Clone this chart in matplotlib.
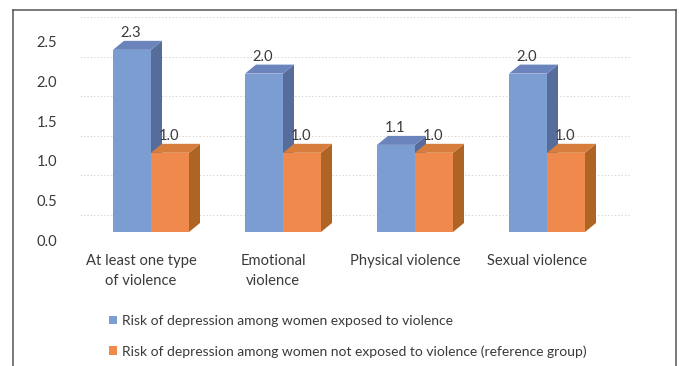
import matplotlib
matplotlib.use("Agg")
import matplotlib.pyplot as plt
from matplotlib.patches import Polygon, Patch
from matplotlib.lines import Line2D
from matplotlib.transforms import ScaledTranslation

plt.rcParams['font.family'] = ['Lato', 'DejaVu Sans']

categories = ["At least one type\nof violence", "Emotional\nviolence",
              "Physical violence", "Sexual violence"]
exposed = [2.3, 2.0, 1.1, 2.0]
not_exposed = [1.0, 1.0, 1.0, 1.0]
series_names = ["Risk of depression among women exposed to violence",
                "Risk of depression among women not exposed to violence (reference group)"]
yticks = [0.0, 0.5, 1.0, 1.5, 2.0, 2.5]

W, H, DPI = 679, 366, 100
fig = plt.figure(figsize=(W / DPI, H / DPI), dpi=DPI)
fig.patch.set_facecolor("white")

# axes placed so that one category slot is 132 px wide
slot = 132.0
ax_left_px, ax_right_px = 60, 660
ax_bottom_px, ax_top_px = 240, 42
ax = fig.add_axes([ax_left_px / W, (H - ax_bottom_px) / H,
                   (ax_right_px - ax_left_px) / W, (ax_bottom_px - ax_top_px) / H])
ax.set_xlim((ax_left_px - 151) / slot, (ax_right_px - 151) / slot)
ax.set_ylim(0, 2.5)
for s in ax.spines.values():
    s.set_visible(False)
ax.patch.set_alpha(0)

text_col = "#3a3a3a"
fs = 10.6
ax.set_yticks(yticks)
ax.set_yticklabels([f"{v:.1f}" for v in yticks], fontsize=fs, color=text_col)
ax.set_xticks(range(len(categories)))
ax.set_xticklabels(categories, fontsize=fs, color=text_col, linespacing=1.55)
ax.tick_params(axis="y", length=0, pad=2)
ax.tick_params(axis="x", length=0, pad=10)
for lbl in ax.get_xticklabels():
    lbl.set_transform(lbl.get_transform() + ScaledTranslation(-10 / DPI, 0, fig.dpi_scale_trans))

fig.canvas.draw()
to_px = ax.transData.transform

# faint dotted gridlines on the back wall
for v in yticks:
    _, yp = to_px((0, v))
    yp += 25
    ax.add_line(Line2D([80, 630], [yp, yp], transform=None, color="#d6d6d6",
                       lw=0.7, ls=(0, (1.5, 2)), zorder=0, clip_on=False))

# 3D box bars
bw = 38 / slot
front_lift = 8      # px, front floor above the axis zero
ddx, ddy = 11, 9    # px, depth of each box

styles = [
    dict(front="#7c9dd1", side="#566d9c", top="#6b84bb"),
    dict(front="#ef8a4c", side="#ae6424", top="#d87e3c"),
]

def box(xl, h, st, label):
    x1, y0 = to_px((xl, 0))
    x2, y1 = to_px((xl + bw, h))
    y0 += front_lift
    y1 += front_lift
    side = [(x2, y0), (x2 + ddx, y0 + ddy), (x2 + ddx, y1 + ddy), (x2, y1)]
    top = [(x1, y1), (x1 + ddx, y1 + ddy), (x2 + ddx, y1 + ddy), (x2, y1)]
    front = [(x1, y0), (x2, y0), (x2, y1), (x1, y1)]
    for pts, c in ((side, st["side"]), (top, st["top"]), (front, st["front"])):
        ax.add_patch(Polygon(pts, closed=True, transform=None, facecolor=c,
                             edgecolor="none", clip_on=False, zorder=2))
    ax.text((x1 + x2) / 2 - 1, y1 + ddy + 8, label, transform=None, ha="center",
            va="center", fontsize=fs, color=text_col, zorder=3)

for i in range(len(categories)):
    box(i - bw, exposed[i], styles[0], f"{exposed[i]:.1f}")
    box(i, not_exposed[i], styles[1], f"{not_exposed[i]:.1f}")

# legend
handles = [Patch(facecolor=styles[0]["front"], edgecolor="none"),
           Patch(facecolor=styles[1]["front"], edgecolor="none")]
fig.legend(handles, series_names, loc="upper left",
           bbox_to_anchor=(102 / W, 1 - 308 / H), frameon=False, fontsize=10.0,
           handlelength=0.6, handleheight=0.6, handletextpad=0.35,
           labelspacing=1.3, borderpad=0, labelcolor=text_col)

# chart frame
fc = "#555555"
fig.add_artist(Line2D([13 / W, 13 / W], [0, 1 - 10 / H], transform=fig.transFigure, color=fc, lw=1.1))
fig.add_artist(Line2D([13 / W, 676 / W], [1 - 10 / H, 1 - 10 / H], transform=fig.transFigure, color=fc, lw=1.1))
fig.add_artist(Line2D([676 / W, 676 / W], [0, 1 - 10 / H], transform=fig.transFigure, color=fc, lw=1.1))

fig.savefig("out.png", dpi=DPI)
